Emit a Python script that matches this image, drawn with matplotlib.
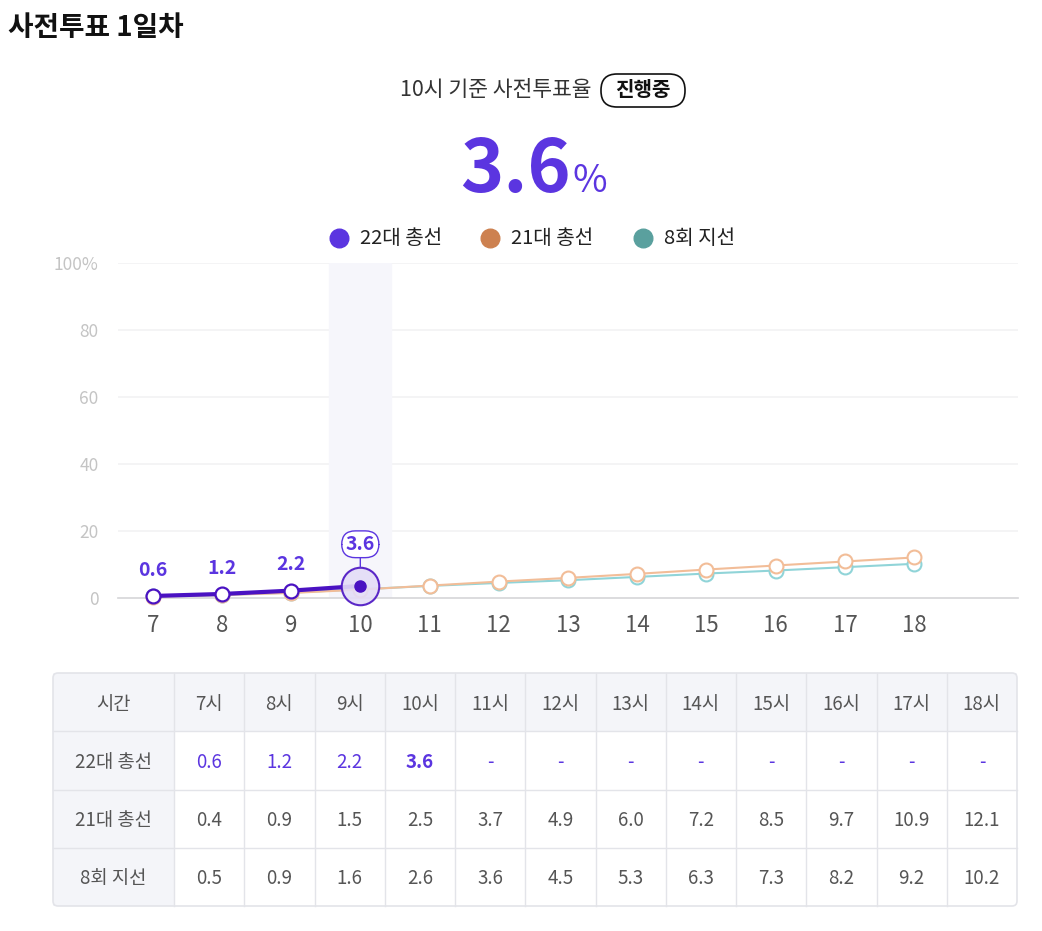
import matplotlib
matplotlib.use('Agg')
import matplotlib.pyplot as plt
from matplotlib.patches import FancyBboxPatch, Rectangle

plt.rcParams['font.family'] = ['Noto Sans CJK KR', 'DejaVu Sans']

# ── data ──────────────────────────────────────────────────────────────────────
hours      = [7, 8, 9, 10, 11, 12, 13, 14, 15, 16, 17, 18]
hour_cols  = [f'{h}시' for h in hours]
series     = ['22대 총선', '21대 총선', '8회 지선']
v22        = [0.6, 1.2, 2.2, 3.6, None, None, None, None, None, None, None, None]
v21        = [0.4, 0.9, 1.5, 2.5, 3.7, 4.9, 6.0, 7.2, 8.5, 9.7, 10.9, 12.1]
v8         = [0.5, 0.9, 1.6, 2.6, 3.6, 4.5, 5.3, 6.3, 7.3, 8.2, 9.2, 10.2]
current_hr = 10
current_v  = 3.6
y_ticks    = [0, 20, 40, 60, 80, 100]
y_labels   = ['0', '20', '40', '60', '80', '100%']

PURPLE   = '#5b35e0'
PURPLE_D = '#4a12c2'
ORANGE   = '#cd8150'
ORANGE_L = '#f2bd98'
TEAL     = '#5aa09e'
TEAL_L   = '#90d4d8'
GRID     = '#f2f2f4'
TXT      = '#555555'

W, H = 1042, 931
fig = plt.figure(figsize=(W / 100, H / 100), dpi=100)
fig.patch.set_facecolor('white')


def rect(l, t, r, b):
    return [l / W, 1 - b / H, (r - l) / W, (b - t) / H]


# overlay axes in pixel coords
ov = fig.add_axes([0, 0, 1, 1])
ov.set_xlim(0, W)
ov.set_ylim(H, 0)
ov.axis('off')

ov.text(8, 28, '사전투표 1일차', fontsize=20, fontweight='bold', color='#111111',
        ha='left', va='center')
ov.text(591, 90, f'{current_hr}시 기준 사전투표율', fontsize=15.5, color='#333333',
        ha='right', va='center')
ov.add_patch(FancyBboxPatch((601, 74), 84, 33, boxstyle='round,pad=0,rounding_size=16',
                            fc='white', ec='#111111', lw=1.2))
ov.text(643, 90, '진행중', fontsize=14.5, fontweight='bold', color='#111111',
        ha='center', va='center')
ov.text(571, 192, f'{current_v}', fontsize=53, fontweight='bold', color=PURPLE,
        ha='right', va='baseline')
ov.text(573, 192, '%', fontsize=27, color=PURPLE, ha='left', va='baseline')

leg_x = [339, 490, 643]
leg_c = [PURPLE, ORANGE, TEAL]
for x, c, lab in zip(leg_x, leg_c, series):
    ov.scatter([x], [238], s=180, color=c, zorder=3)
    ov.text(x + 21, 238, lab, fontsize=14.5, color='#222222', ha='left', va='center')

# ── chart ─────────────────────────────────────────────────────────────────────
ax = fig.add_axes(rect(118, 263, 1018, 598))
ax.set_facecolor('none')
ax.set_xlim(6.5, 19.5)
ax.set_ylim(0, 100)
for s in ['top', 'right', 'left']:
    ax.spines[s].set_visible(False)
ax.spines['bottom'].set_color('#d5d5d8')
ax.spines['bottom'].set_linewidth(1.2)
ax.set_yticks(y_ticks)
ax.set_yticklabels(y_labels)
ax.set_xticks(hours)
ax.tick_params(axis='y', length=0, pad=14, labelsize=12.5, labelcolor='#c4c4c4')
ax.tick_params(axis='x', length=0, pad=11.5, labelsize=16, labelcolor=TXT)
for yt in y_ticks[1:]:
    ax.axhline(yt, color=GRID, lw=1.2, zorder=0)
ax.axvspan(current_hr - 0.45, current_hr + 0.45, color='#f6f6fb', zorder=0)

ax.plot(hours, v8, color=TEAL_L, lw=1.5, marker='o', ms=10, mfc='white',
        mec=TEAL_L, mew=1.5, clip_on=False, zorder=2)
ax.plot(hours, v21, color=ORANGE_L, lw=1.5, marker='o', ms=10, mfc='white',
        mec=ORANGE_L, mew=1.5, clip_on=False, zorder=3)

h22 = [h for h, v in zip(hours, v22) if v is not None]
d22 = [v for v in v22 if v is not None]
ax.plot(h22, d22, color=PURPLE_D, lw=3, clip_on=False, zorder=4)
ax.plot(h22[:-1], d22[:-1], ls='none', marker='o', ms=10, mfc='white',
        mec=PURPLE_D, mew=1.6, clip_on=False, zorder=5)
ax.plot([current_hr], [current_v], marker='o', ms=27, mfc='#e4ddf7', mec=PURPLE_D,
        mew=1.5, alpha=0.9, clip_on=False, zorder=6)
ax.plot([current_hr], [current_v], marker='o', ms=8, color=PURPLE_D,
        clip_on=False, zorder=7)

for h, v in zip(h22[:-1], d22[:-1]):
    ax.annotate(f'{v}', xy=(h, v), xytext=(0, 18.5), textcoords='offset points',
                ha='center', va='center', fontsize=14, fontweight='bold',
                color=PURPLE, zorder=8)
ax.annotate(f'{current_v}', xy=(current_hr, current_v), xytext=(0, 30),
            textcoords='offset points', ha='center', va='center', fontsize=14,
            fontweight='bold', color=PURPLE, zorder=8,
            bbox=dict(boxstyle='round,pad=0.2,rounding_size=0.7', fc='white',
                      ec=PURPLE, lw=1),
            arrowprops=dict(arrowstyle='-', color=PURPLE, lw=1, shrinkA=0, shrinkB=13.5))

# ── table ─────────────────────────────────────────────────────────────────────
tl, tt, tr, tb = 53, 673, 1017, 906
first_w = 121
col_w = (tr - tl - first_w) / len(hours)
row_h = (tb - tt) / 4
BORDER = '#e3e4e9'
HEAD_BG = '#f4f5f9'
TFS = 13.5

ov.add_patch(Rectangle((tl, tt), tr - tl, row_h, fc=HEAD_BG, ec='none', zorder=1))
ov.add_patch(Rectangle((tl, tt), first_w, tb - tt, fc=HEAD_BG, ec='none', zorder=1))
for i in range(1, 4):
    y = tt + i * row_h
    ov.plot([tl, tr], [y, y], color=BORDER, lw=1, zorder=2)
for j in range(len(hours)):
    x = tl + first_w + j * col_w
    ov.plot([x, x], [tt, tb], color=BORDER, lw=1, zorder=2)
ov.add_patch(FancyBboxPatch((tl, tt), tr - tl, tb - tt,
                            boxstyle='round,pad=0,rounding_size=5',
                            fc='none', ec=BORDER, lw=1.2, zorder=3))

cx0 = tl + first_w / 2
dy = 2
ov.text(cx0, tt + row_h / 2 + dy, '시간', fontsize=TFS, color=TXT, ha='center',
        va='center', zorder=4)
for j, lab in enumerate(hour_cols):
    cx = tl + first_w + (j + 0.5) * col_w
    ov.text(cx, tt + row_h / 2 + dy, lab, fontsize=TFS, color=TXT, ha='center',
            va='center', zorder=4)

rows = [v22, v21, v8]
for i, (name, vals) in enumerate(zip(series, rows)):
    cy = tt + (i + 1.5) * row_h + dy
    ov.text(cx0, cy, name, fontsize=TFS, color=TXT, ha='center', va='center', zorder=4)
    for j, v in enumerate(vals):
        cx = tl + first_w + (j + 0.5) * col_w
        if i == 0:
            txt = '-' if v is None else f'{v}'
            bold = hours[j] == current_hr
            ov.text(cx, cy, txt, fontsize=TFS, color=PURPLE,
                    fontweight='bold' if bold else 'normal',
                    ha='center', va='center', zorder=4)
        else:
            ov.text(cx, cy, f'{v:.1f}', fontsize=TFS, color=TXT, ha='center',
                    va='center', zorder=4)

fig.savefig('out.png', dpi=100, facecolor='white')
